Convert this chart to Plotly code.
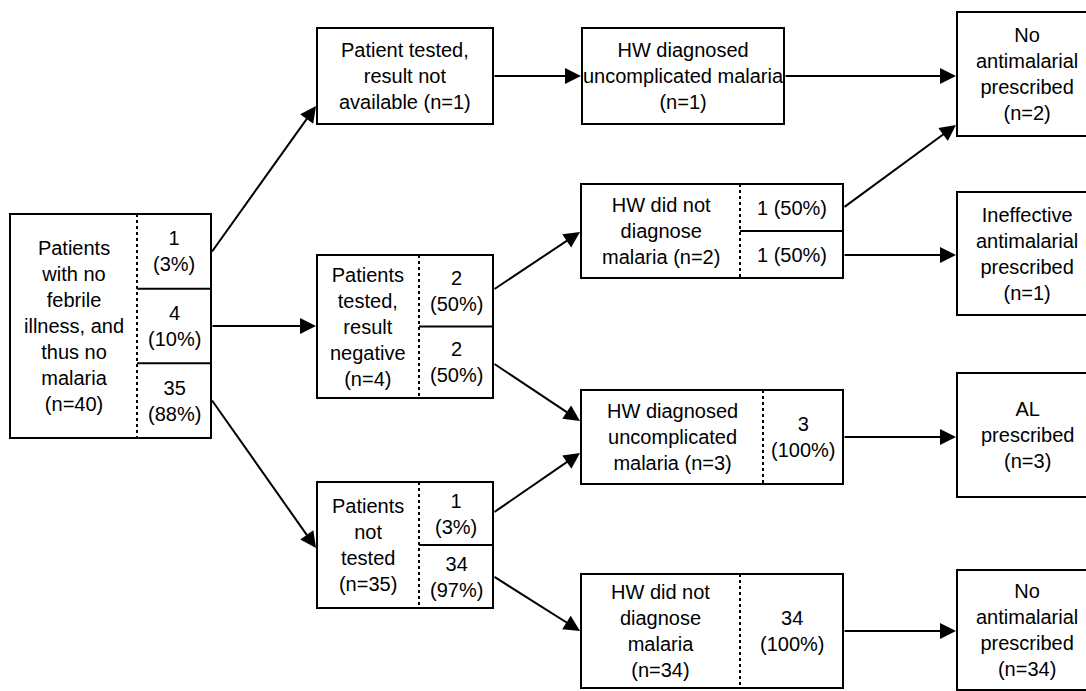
import plotly.graph_objects as go

# ---------------- data ----------------
total_n = 40
level1_label = ["Patients", "with no", "febrile", "illness, and", "thus no", "malaria"]
level1_counts = [1, 4, 35]
level1_pcts = [3, 10, 88]

notavail_label = ["Patient tested,", "result not", "available"]
notavail_n = 1
negative_label = ["Patients", "tested,", "result", "negative"]
negative_n = 4
negative_counts = [2, 2]
negative_pcts = [50, 50]
nottested_label = ["Patients", "not", "tested"]
nottested_n = 35
nottested_counts = [1, 34]
nottested_pcts = [3, 97]

hw_diag1_label = ["HW diagnosed", "uncomplicated malaria"]
hw_diag1_n = 1
hw_nodiag2_label = ["HW did not", "diagnose", "malaria"]
hw_nodiag2_n = 2
hw_nodiag2_counts = [1, 1]
hw_nodiag2_pcts = [50, 50]
hw_diag3_label = ["HW diagnosed", "uncomplicated", "malaria"]
hw_diag3_n = 3
hw_diag3_counts = [3]
hw_diag3_pcts = [100]
hw_nodiag34_label = ["HW did not", "diagnose", "malaria"]
hw_nodiag34_n = 34
hw_nodiag34_counts = [34]
hw_nodiag34_pcts = [100]

out_labels = [["No", "antimalarial", "prescribed"],
              ["Ineffective", "antimalarial", "prescribed"],
              ["AL", "prescribed"],
              ["No", "antimalarial", "prescribed"]]
out_n = [2, 1, 3, 34]

# ---------------- helpers ----------------
FONT = dict(family="Liberation Sans, Arial, Helvetica, sans-serif", size=20, color="black")
shapes = []
annotations = []


def rect(x0, y0, x1, y1):
    shapes.append(dict(type="rect", xref="x", yref="y", x0=x0, y0=y0, x1=x1, y1=y1,
                       line=dict(color="black", width=2), fillcolor="rgba(0,0,0,0)"))


def hline(x0, x1, y):
    shapes.append(dict(type="line", xref="x", yref="y", x0=x0, x1=x1, y0=y, y1=y,
                       line=dict(color="black", width=2)))


def dotted(x, y0, y1):
    shapes.append(dict(type="line", xref="x", yref="y", x0=x, x1=x, y0=y0, y1=y1,
                       line=dict(color="black", width=2, dash="dot")))


def text(x, y, lines):
    annotations.append(dict(x=x, y=y, xref="x", yref="y", text="<br>".join(lines),
                            showarrow=False, font=FONT, align="center",
                            xanchor="center", yanchor="middle"))


def arrow(x0, y0, x1, y1):
    annotations.append(dict(x=x1, y=y1, ax=x0, ay=y0, xref="x", yref="y",
                            axref="x", ayref="y", text="", showarrow=True,
                            arrowhead=2, arrowsize=1.6, arrowwidth=2, arrowcolor="black",
                            standoff=0, startstandoff=0))


def nlab(n):
    return f"(n={n})"


def cell(c, p, one_line=False):
    return [f"{c} ({p}%)"] if one_line else [f"{c}", f"({p}%)"]


def split_box(x0, xd, x1, y0, y1, label, counts, pcts, one_line=False):
    rect(x0, y0, x1, y1)
    dotted(xd, y0, y1)
    text((x0 + xd) / 2, (y0 + y1) / 2, label)
    k = len(counts)
    h = (y1 - y0) / k
    for i, (c, p) in enumerate(zip(counts, pcts)):
        if i > 0:
            hline(xd, x1, y0 + i * h)
        text((xd + x1) / 2, y0 + (i + 0.5) * h, cell(c, p, one_line))


# ---------------- boxes ----------------
split_box(10, 137, 211, 214, 438, level1_label + [nlab(total_n)], level1_counts, level1_pcts)

rect(317, 28, 493, 124)
text(405, 76, notavail_label[:2] + [notavail_label[2] + " " + nlab(notavail_n)])

split_box(317, 419, 493, 255, 398, negative_label + [nlab(negative_n)], negative_counts, negative_pcts)
split_box(317, 419, 493, 482, 608, nottested_label + [nlab(nottested_n)], nottested_counts, nottested_pcts)

rect(582, 28, 784, 124)
text(683, 76, hw_diag1_label + [nlab(hw_diag1_n)])

split_box(581, 740, 843, 184, 278,
          hw_nodiag2_label[:2] + [hw_nodiag2_label[2] + " " + nlab(hw_nodiag2_n)],
          hw_nodiag2_counts, hw_nodiag2_pcts, one_line=True)
split_box(581, 763, 843, 390, 484,
          hw_diag3_label[:2] + [hw_diag3_label[2] + " " + nlab(hw_diag3_n)],
          hw_diag3_counts, hw_diag3_pcts)
split_box(581, 740, 843, 574, 688, hw_nodiag34_label + [nlab(hw_nodiag34_n)],
          hw_nodiag34_counts, hw_nodiag34_pcts)

out_boxes = [(12, 136), (192, 315), (373, 497), (570, 690)]
for (y0, y1), lab, n in zip(out_boxes, out_labels, out_n):
    rect(957, y0, 1100, y1)
    text(1027, (y0 + y1) / 2, lab + [nlab(n)])

# ---------------- arrows ----------------
arrow(211, 253, 316, 106)
arrow(211, 326, 316, 326)
arrow(211, 399, 316, 548)
arrow(493, 76, 581, 76)
arrow(493, 290, 580, 232)
arrow(493, 363, 580, 421)
arrow(493, 513, 580, 453)
arrow(493, 576, 580, 631)
arrow(784, 76, 956, 76)
arrow(843, 208, 956, 125)
arrow(843, 255, 956, 255)
arrow(843, 437, 956, 437)
arrow(843, 631, 956, 631)

fig = go.Figure()
fig.add_trace(go.Scatter(x=[0, 1086], y=[0, 691], mode="markers",
                         marker=dict(opacity=0), hoverinfo="skip", showlegend=False))
fig.update_layout(
    width=1086, height=691,
    margin=dict(l=0, r=0, t=0, b=0),
    paper_bgcolor="white", plot_bgcolor="white",
    xaxis=dict(range=[0, 1086], visible=False, fixedrange=True),
    yaxis=dict(range=[691, 0], visible=False, fixedrange=True),
    shapes=shapes, annotations=annotations, showlegend=False,
)
fig.write_html("out.html", config={"displayModeBar": False},
               post_script="document.body.style.margin='0';document.body.style.overflow='hidden';")
